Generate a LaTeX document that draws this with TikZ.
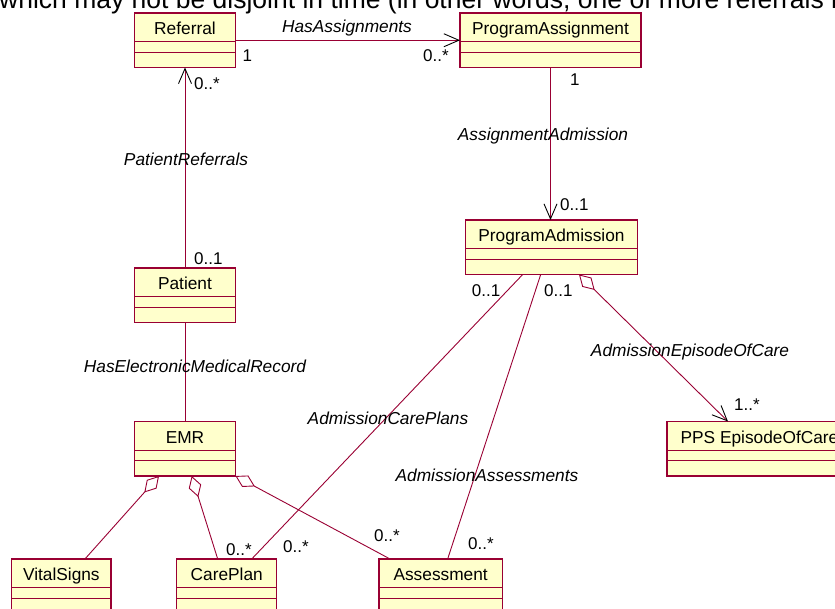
\documentclass[tikz,border=0pt]{standalone}
\usepackage{fontspec}
\setmainfont{Liberation Sans}
\usetikzlibrary{arrows.meta,calc}
\definecolor{umlborder}{RGB}{153,0,51}
\definecolor{umlfill}{RGB}{255,255,204}
\tikzset{
  umlagg/.tip={Diamond[open,length=22pt,width=13pt,line width=0.9pt]},
  umlnav/.tip={Straight Barb[length=15pt,width=13pt,line width=0.9pt,color=black]},
}
% class box: name, left, top, width, title
\newcommand\umlclass[5]{%
  \node[classbox, minimum width=#4pt] (#1) at (#2,#3) {};
  \draw[compline] ($(#1.north west)+(0,28.5)$) -- ($(#1.north east)+(0,28.5)$);
  \draw[compline] ($(#1.north west)+(0,39.3)$) -- ($(#1.north east)+(0,39.3)$);
  \node[classname] (#1-title) at ($(#1.north)+(0,21.5)$) {#5};
}
\begin{document}
\begin{tikzpicture}[x=1pt,y=-1pt,
  classbox/.style={draw=umlborder, fill=umlfill, line width=1.3pt, rectangle,
    anchor=north west, inner sep=0pt, outer sep=0pt, minimum height=54.5pt},
  compline/.style={draw=umlborder, line width=0.9pt},
  classname/.style={anchor=base, font=\fontsize{17.3}{20}\selectfont, inner sep=0pt},
  assoc/.style={draw=umlborder, line width=0.9pt},
  role/.style={anchor=base west, font=\fontsize{17}{20}\selectfont, inner sep=0pt},
  assocname/.style={anchor=base, font=\fontsize{17.3}{20}\selectfont\itshape, inner sep=0pt},
]
\useasboundingbox (0,0) rectangle (835,609);
\clip (0,0) rectangle (835,609);

% running text above the diagram
\node[anchor=base west, inner sep=0pt, font=\fontsize{26.5}{30}\selectfont] (caption)
  at (-1,9) {which may not be disjoint in time (in other words, one of more referrals r};

% classes
\umlclass{referral}{134.5}{13}{101}{Referral}
\umlclass{progassign}{460}{13}{181}{ProgramAssignment}
\umlclass{patient}{134.5}{268}{101}{Patient}
\umlclass{emr}{134.5}{421.5}{101}{EMR}
\umlclass{progadm}{465.5}{220}{172}{ProgramAdmission}
\umlclass{pps}{667}{421.5}{185}{PPS EpisodeOfCare}
\umlclass{vitals}{11.7}{559}{99.3}{VitalSigns}
\umlclass{careplan}{176.7}{559}{100}{CarePlan}
\umlclass{assessment}{379}{559}{123.3}{Assessment}

% associations
\draw[assoc, -umlnav] (referral.east) -- (progassign.west);
\draw[assoc, -umlnav] (patient.north) -- (referral.south);
\draw[assoc] (patient.south) -- (emr.north);
\draw[assoc, -umlnav] (progassign.south) -- (progassign.south |- progadm.north);
\draw[assoc] ([xshift=-28.8pt]progadm.south) -- ([xshift=25pt]careplan.north);
\draw[assoc] ([xshift=-10.8pt]progadm.south) -- ([xshift=7pt]assessment.north);
\draw[assoc, umlagg-umlnav] ([xshift=27.5pt]progadm.south) -- ([xshift=-31.5pt]pps.north);

% aggregations owned by EMR
\draw[assoc, umlagg-] ([xshift=-26pt]emr.south) -- ([xshift=23.6pt]vitals.north);
\draw[assoc, umlagg-] ([xshift=6.7pt]emr.south) -- ([xshift=-9pt]careplan.north);
\draw[assoc, umlagg-] (emr.south east) -- ([xshift=-50.6pt]assessment.north);

% association names
\node[assocname] (n-hasassign) at (347,33) {HasAssignments};
\node[assocname] (n-patref) at (186,166) {PatientReferrals};
\node[assocname] (n-assignadm) at (543,141) {AssignmentAdmission};
\node[assocname] (n-emrrec) at (195,373) {HasElectronicMedicalRecord};
\node[assocname] (n-careplans) at (388,424) {AdmissionCarePlans};
\node[assocname] (n-assess) at (487,481) {AdmissionAssessments};
\node[assocname] (n-episode) at (690,356) {AdmissionEpisodeOfCare};

% multiplicities
\node[role] (m1) at (242.3,61.7) {1};
\node[role] (m2) at (423,61.7) {0..*};
\node[role] (m3) at (194,89.3) {0..*};
\node[role] (m4) at (570,86) {1};
\node[role] (m5) at (560,211) {0..1};
\node[role] (m6) at (471.7,296.7) {0..1};
\node[role] (m7) at (544,296.7) {0..1};
\node[role] (m8) at (194,264.3) {0..1};
\node[role] (m9) at (734,410) {1..*};
\node[role] (m10) at (226,555) {0..*};
\node[role] (m11) at (283,552.7) {0..*};
\node[role] (m12) at (374,541.7) {0..*};
\node[role] (m13) at (468,549.3) {0..*};
\end{tikzpicture}
\end{document}
